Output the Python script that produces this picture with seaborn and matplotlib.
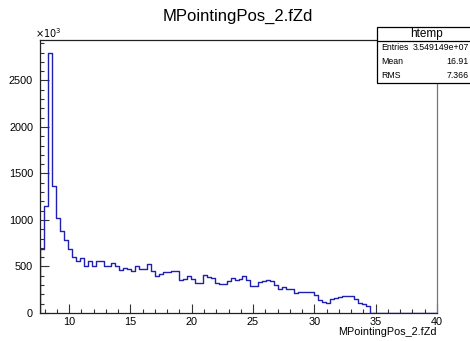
import numpy as np
import pandas as pd
import matplotlib
matplotlib.use("Agg")
import matplotlib.pyplot as plt
from matplotlib.patches import Rectangle
from matplotlib.lines import Line2D
from matplotlib.ticker import MultipleLocator
import seaborn as sns

# histogram range (100 bins, as TTree::Draw gives)
x_lo, x_hi, n_bins = 7.63, 40.0, 100

# bin contents in units of 10^3 (bins 84..100 empty)
counts_k = [688, 1153, 2795, 1361, 1021, 877, 781, 688, 602, 555,
            591, 508, 555, 508, 555, 560, 500, 500, 540, 500,
            460, 480, 475, 455, 500, 475, 475, 530, 455, 400,
            420, 441, 441, 447, 447, 358, 365, 401, 365, 322,
            322, 412, 387, 376, 322, 312, 312, 340, 376, 358,
            365, 400, 358, 293, 286, 333, 340, 358, 340, 304,
            258, 276, 258, 262, 220, 225, 230, 228, 222, 195,
            140, 118, 108, 148, 165, 172, 185, 185, 185, 150,
            112, 95, 80] + [0] * 17

title = "MPointingPos_2.fZd"
stat_labels = ["Entries", "Mean", "RMS"]
stat_values = ["3.549149e+07", "16.91", "7.366"]

sns.set_style("ticks")
plt.rcParams["font.family"] = ["Liberation Sans", "DejaVu Sans"]
plt.rcParams["text.color"] = "black"

W, H = 470, 341
fig = plt.figure(figsize=(W / 100, H / 100), dpi=100)
ax = fig.add_axes([40 / W, 28 / H, 397 / W, 273 / H])

edges = np.linspace(x_lo, x_hi, n_bins + 1)
df = pd.DataFrame({"zd": 0.5 * (edges[:-1] + edges[1:]),
                   "n": np.array(counts_k, dtype=float)})

line_col = "#2020b0"
# bins as a plain list (an ndarray trips seaborn's bins == "auto" check)
sns.histplot(data=df, x="zd", weights="n", bins=edges.tolist(),
             element="step", fill=False, color=line_col, linewidth=1.0,
             ax=ax)
ax.vlines(edges[0], 0, df["n"].iloc[0], color=line_col, lw=1.0)

ax.set_xlim(x_lo, x_hi)
ax.set_ylim(0, df["n"].max() * 1.05)
ax.set_ylabel("")
ax.set_xlabel(title, fontsize=7.8, loc="right", color="black")
ax.xaxis.set_label_coords(1.0, -0.068)
ax.xaxis.label.set_va("center")

ax.xaxis.set_major_locator(MultipleLocator(5))
ax.xaxis.set_minor_locator(MultipleLocator(1))
ax.yaxis.set_major_locator(MultipleLocator(500))
ax.yaxis.set_minor_locator(MultipleLocator(100))
ax.tick_params(which="both", direction="in", labelsize=7.8, color="#333333",
               labelcolor="black")
ax.tick_params(which="major", length=6.5, width=0.8)
ax.tick_params(which="minor", length=3.2, width=0.8)
ax.tick_params(axis="y", pad=5)
ax.tick_params(axis="x", pad=3)
for s in ax.spines.values():
    s.set_linewidth(0.9)
    s.set_color("#222222")
ax.spines["right"].set_color("#777777")

fig.text(238 / W, 1 - 16 / H, title, ha="center", va="center", fontsize=12)
fig.text(35 / W, 1 - 33 / H, r"$\times10^{3}$", ha="left", va="center",
         fontsize=7)

# stats box, running past the right edge as in the original
bx0, by_top, by_bot, bx1 = 377, 26.7, 82.7, 476
fig.add_artist(Rectangle((bx0 / W, 1 - by_bot / H), (bx1 - bx0) / W,
                         (by_bot - by_top) / H, transform=fig.transFigure,
                         facecolor="white", edgecolor="black", lw=0.9,
                         zorder=5))
fig.add_artist(Line2D([bx0 / W, bx1 / W], [1 - 40.7 / H, 1 - 40.7 / H],
                      transform=fig.transFigure, color="black", lw=0.9,
                      zorder=6))
fig.text((bx0 + bx1) / 2 / W, 1 - 34 / H, "htemp", ha="center",
         va="center", fontsize=8.5, zorder=7)
for i, (lab, val) in enumerate(zip(stat_labels, stat_values)):
    yc = 1 - (48 + 13.5 * i) / H
    fig.text(381 / W, yc, lab, ha="left", va="center", fontsize=6.3,
             zorder=7)
    fig.text(469 / W, yc, val, ha="right", va="center", fontsize=6.3,
             zorder=7)

fig.savefig("out.png", dpi=100)
